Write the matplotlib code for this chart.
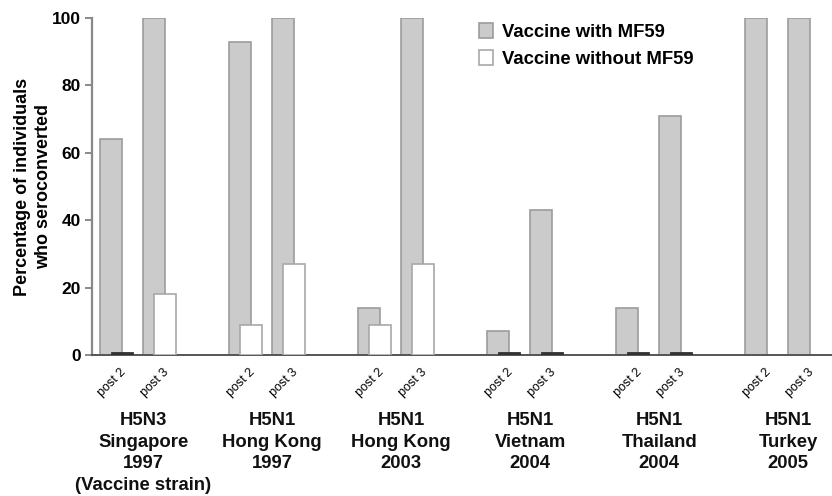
import numpy as np
import matplotlib.pyplot as plt
from matplotlib.transforms import blended_transform_factory

# ─── data ───
groups = ["H5N3\nSingapore\n1997\n(Vaccine strain)",
          "H5N1\nHong Kong\n1997",
          "H5N1\nHong Kong\n2003",
          "H5N1\nVietnam\n2004",
          "H5N1\nThailand\n2004",
          "H5N1\nTurkey\n2005"]
timepoints = ["post 2", "post 3"]
with_mf59 = [64, 100, 93, 100, 14, 100, 7, 43, 14, 71, 100, 100]
without_mf59 = [0, 18, 9, 27, 9, 27, 0, 0, 0, 0, np.nan, np.nan]
yticks = [0, 20, 40, 60, 80, 100]

GREY = "#cbcbcb"
GREY_EDGE = "#9c9c9c"
WHITE_EDGE = "#a8a8a8"
DARK = "#333333"

plt.rcParams["font.family"] = ["Liberation Sans", "DejaVu Sans"]

fig = plt.figure(figsize=(8.32, 4.96), dpi=100)
ax = fig.add_axes([0.1106, 0.2843, 0.8894, 0.6794])

pos = np.array([3 * g + t for g in range(len(groups)) for t in range(2)], dtype=float)
w = 0.51
off = 0.25

ax.bar(pos, with_mf59, width=w, color=GREY, edgecolor=GREY_EDGE, linewidth=1.2,
       label="Vaccine with MF59", zorder=2)

wo = np.array(without_mf59, dtype=float)
nonzero = np.where(wo > 0, wo, np.nan)
ax.bar(pos + off, nonzero, width=w, color="white", edgecolor=WHITE_EDGE, linewidth=1.2,
       label="Vaccine without MF59", zorder=3)
# zero values drawn as thin dark bars on the baseline
zero = np.where(wo == 0, 0.8, np.nan)
ax.bar(pos + off, zero, width=w, color=DARK, edgecolor=DARK, linewidth=0.6, zorder=3)

ax.set_xlim(-0.44, 16.77)
ax.set_ylim(0, 100)
ax.set_yticks(yticks)
ax.set_yticklabels([str(v) for v in yticks], fontsize=12.5, fontweight="bold")
ax.tick_params(axis="y", length=5, width=1.2, color="#777777", pad=3)

ax.set_xticks(pos + 0.2)
ax.set_xticklabels(timepoints * len(groups), rotation=45, ha="right",
                   rotation_mode="anchor", fontsize=9)
ax.tick_params(axis="x", length=0, pad=8)

for s in ["top", "right"]:
    ax.spines[s].set_visible(False)
ax.spines["left"].set_color("#888888")
ax.spines["left"].set_linewidth(1.6)
ax.spines["bottom"].set_color("#555555")
ax.spines["bottom"].set_linewidth(1.4)

ax.set_ylabel("Percentage of individuals\nwho seroconverted", fontsize=13,
              fontweight="bold", labelpad=0, linespacing=1.3)

trans = blended_transform_factory(ax.transData, ax.transAxes)
for g, name in enumerate(groups):
    ax.text(3 * g + 0.75, -0.168, name, transform=trans, ha="center", va="top",
            fontsize=13.3, fontweight="bold", linespacing=1.38, color="#111111")

leg = ax.legend(loc="upper left", bbox_to_anchor=(0.5, 1.035), frameon=False,
                prop={"size": 13.3, "weight": "bold"}, handlelength=0.8,
                handleheight=0.9, handletextpad=0.45, labelspacing=0.5)

fig.savefig("out.png", dpi=100)
